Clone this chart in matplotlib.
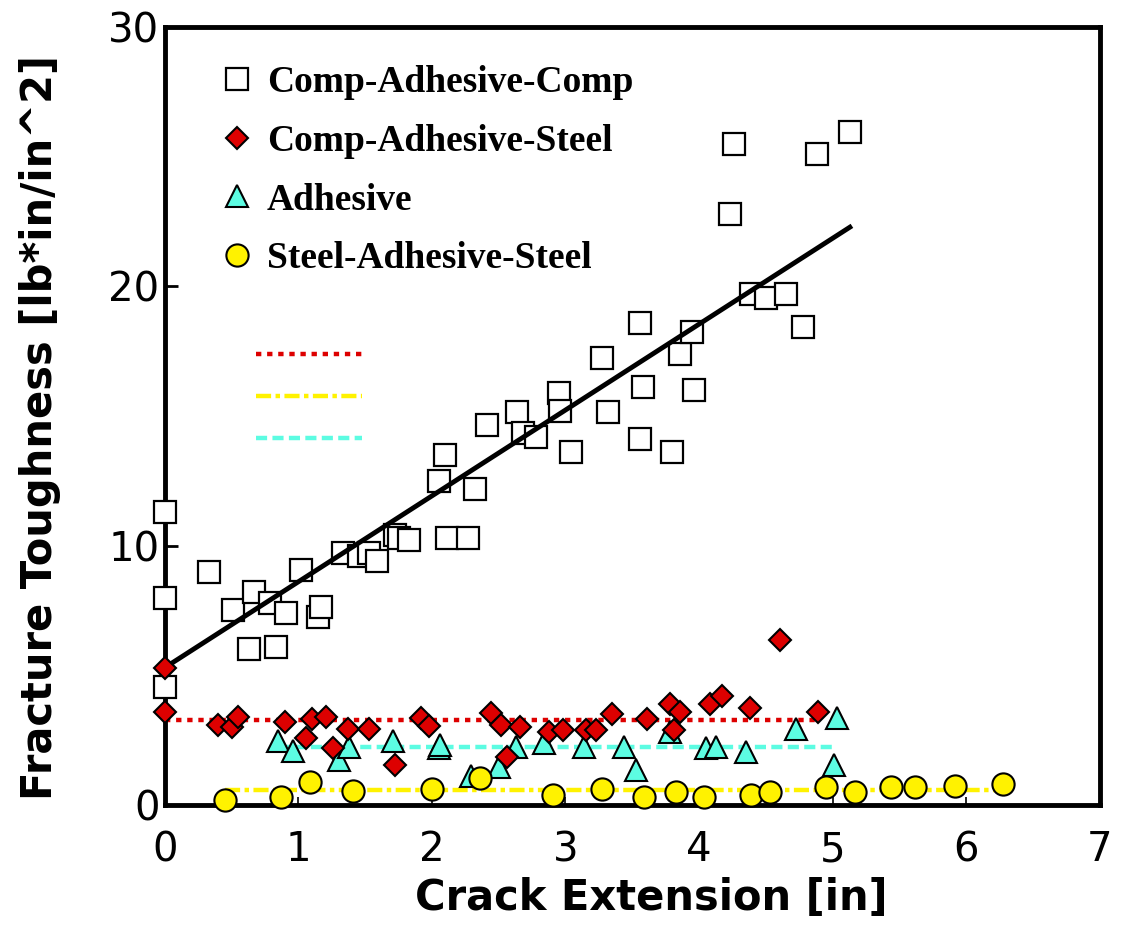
import numpy as np
import matplotlib
matplotlib.use('Agg')
import matplotlib.pyplot as plt

# Comp-Adhesive-Comp specimens
cac_x = [0.0, 0.0, 0.0, 0.33, 0.51, 0.63, 0.67, 0.79, 0.83, 0.91, 1.02, 1.15, 1.17,
         1.33, 1.45, 1.53, 1.59, 1.72, 1.75, 1.83, 2.05, 2.10, 2.11, 2.27, 2.32, 2.41,
         2.64, 2.68, 2.78, 2.95, 2.96, 3.04, 3.27, 3.32, 3.56, 3.58, 3.56, 3.80, 3.86,
         3.95, 3.96, 4.23, 4.26, 4.39, 4.50, 4.65, 4.78, 4.88, 5.13]
cac_y = [11.3, 8.0, 4.55, 9.0, 7.5, 6.0, 8.2, 7.8, 6.1, 7.4, 9.05, 7.25, 7.65,
         9.7, 9.6, 9.7, 9.4, 10.4, 10.3, 10.2, 12.5, 13.5, 10.3, 10.3, 12.2, 14.65,
         15.15, 14.35, 14.2, 15.9, 15.2, 13.6, 17.25, 15.15, 18.6, 16.1, 14.1, 13.6, 17.4,
         18.25, 16.0, 22.8, 25.5, 19.7, 19.55, 19.7, 18.45, 25.1, 25.95]

# Comp-Adhesive-Steel specimens
cas_x = [0.0, 0.0, 0.40, 0.50, 0.55, 0.90, 1.06, 1.10, 1.21, 1.26, 1.37, 1.53, 1.72,
         1.92, 1.98, 2.44, 2.52, 2.56, 2.66, 2.88, 2.98, 3.15, 3.23, 3.35, 3.61, 3.78,
         3.81, 3.86, 4.08, 4.17, 4.38, 4.61, 4.89]
cas_y = [5.3, 3.6, 3.1, 3.0, 3.4, 3.2, 2.6, 3.3, 3.4, 2.2, 2.95, 2.95, 1.55,
         3.35, 3.05, 3.55, 3.1, 1.85, 3.0, 2.8, 2.9, 2.9, 2.9, 3.5, 3.3, 3.9,
         2.9, 3.6, 3.9, 4.2, 3.75, 6.35, 3.6]

# Adhesive only
adh_x = [0.85, 0.96, 1.30, 1.38, 1.71, 2.05, 2.06, 2.29, 2.50, 2.63, 2.84, 3.14, 3.44,
         3.53, 3.78, 4.05, 4.13, 4.35, 4.73, 5.01, 5.03]
adh_y = [2.45, 2.1, 1.75, 2.25, 2.45, 2.2, 2.3, 1.1, 1.45, 2.25, 2.4, 2.25, 2.25,
         1.35, 2.8, 2.2, 2.25, 2.05, 2.95, 1.55, 3.35]

# Steel-Adhesive-Steel specimens
sas_x = [0.45, 0.87, 1.09, 1.41, 2.00, 2.36, 2.91, 3.27, 3.59, 3.83, 4.04, 4.39, 4.53,
         4.95, 5.17, 5.44, 5.62, 5.92, 6.28]
sas_y = [0.2, 0.3, 0.9, 0.55, 0.6, 1.05, 0.4, 0.6, 0.3, 0.5, 0.3, 0.4, 0.5,
         0.7, 0.5, 0.7, 0.7, 0.75, 0.8]

# linear fit for Comp-Adhesive-Comp, and average levels for the others
fit_intercept = 5.3
fit_slope = 3.31
cas_mean = 3.28
adh_mean = 2.24
sas_mean = 0.58

red = '#DD0000'
cyan = '#5CFCE2'
yellow = '#FFF200'

fig = plt.figure(figsize=(11.22, 9.3), dpi=100)
ax = fig.add_axes([0.147, 0.1344, 0.833, 0.8366])

# average lines
cas_line, = ax.plot([min(cas_x), max(cas_x)], [cas_mean, cas_mean], color=red, lw=3.2,
                    linestyle=(0, (1.2, 1.3)), zorder=1)
adh_line, = ax.plot([min(adh_x), max(adh_x)], [adh_mean, adh_mean], color=cyan, lw=3.2,
                    linestyle=(0, (2.5, 1.2)), zorder=1)
sas_line, = ax.plot([min(sas_x), max(sas_x)], [sas_mean, sas_mean], color=yellow, lw=3.2,
                    linestyle=(0, (3.4, 1.0, 1.0, 1.0)), zorder=1)

sq, = ax.plot(cac_x, cac_y, 's', ms=16, mfc='white', mec='black', mew=1.6, zorder=3,
              clip_on=False, label='Comp-Adhesive-Comp')
fx = np.array([0, max(cac_x)])
ax.plot(fx, fit_intercept + fit_slope * fx, color='black', lw=3.5, zorder=4)
dm, = ax.plot(cas_x, cas_y, 'D', ms=11, mfc=red, mec='black', mew=1.5, zorder=6,
              clip_on=False, label='Comp-Adhesive-Steel')
tr, = ax.plot(adh_x, adh_y, '^', ms=16, mfc=cyan, mec='black', mew=1.5, zorder=5,
              clip_on=False, label='Adhesive')
ci, = ax.plot(sas_x, sas_y, 'o', ms=16, mfc=yellow, mec='black', mew=1.5, zorder=5,
              clip_on=False, label='Steel-Adhesive-Steel')

ax.set_xlim(0, 7)
ax.set_ylim(0, 30)
ax.set_xticks(range(0, 8))
ax.set_yticks([0, 10, 20, 30])

for s in ax.spines.values():
    s.set_linewidth(3.5)
ax.tick_params(axis='y', direction='in', length=9, width=2, pad=4)
ax.tick_params(axis='x', direction='in', length=6, width=1.2, pad=18)
for lab in ax.get_xticklabels() + ax.get_yticklabels():
    lab.set_fontfamily('DejaVu Sans')
    lab.set_fontsize(29)

ax.set_xlabel('Crack Extension [in]', fontfamily='DejaVu Sans', fontweight='bold',
              fontsize=30, va='center')
ax.set_ylabel('Fracture Toughness [lb*in/in^2]', fontfamily='DejaVu Sans',
              fontweight='bold', fontsize=30, va='center')
ax.xaxis.set_label_coords(0.52, -0.12)
ax.yaxis.set_label_coords(-0.134, 0.485)

leg = ax.legend(handles=[sq, dm, tr, ci], loc='upper left', bbox_to_anchor=(0.041, 0.97),
                frameon=False, prop={'family': 'Liberation Serif', 'weight': 'bold', 'size': 27},
                handlelength=1.0, handletextpad=0.3, labelspacing=0.63, borderaxespad=0)
ax.add_artist(leg)

# unlabelled key for the average lines
ax.legend(handles=[cas_line, sas_line, adh_line], labels=['', '', ''], loc='upper left',
          bbox_to_anchor=(0.086, 0.61), frameon=False, prop={'size': 20},
          handlelength=3.8, labelspacing=0.5, borderaxespad=0, handletextpad=0)

fig.savefig('out.png', dpi=100)
